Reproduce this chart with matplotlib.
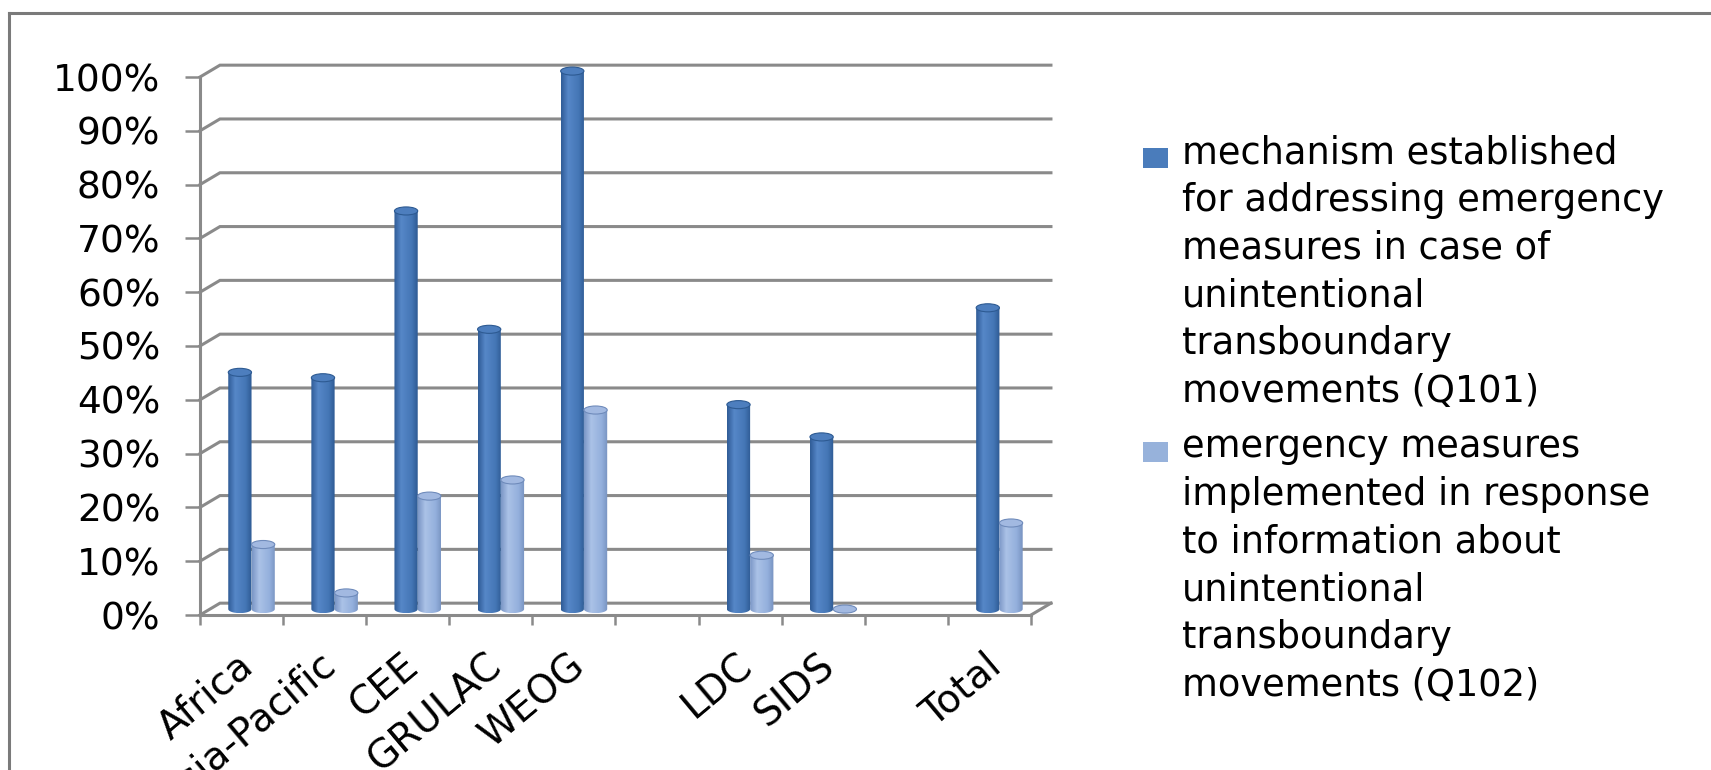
import numpy as np
import matplotlib.pyplot as plt
from matplotlib.patches import Ellipse, Rectangle
from matplotlib.path import Path
from matplotlib.lines import Line2D
from matplotlib.colors import LinearSegmentedColormap

# survey results, share of parties per region / group
categories = ['Africa', 'Asia-Pacific', 'CEE', 'GRULAC', 'WEOG', '', 'LDC', 'SIDS', '', 'Total']
mechanism = [44, 43, 74, 52, 100, np.nan, 38, 32, np.nan, 56]
implemented = [12, 3, 21, 24, 37, np.nan, 10, 0, np.nan, 16]
series_names = ['mechanism established\nfor addressing emergency\nmeasures in case of\n'
                'unintentional\ntransboundary\nmovements (Q101)',
                'emergency measures\nimplemented in response\nto information about\n'
                'unintentional\ntransboundary\nmovements (Q102)']
y_ticks = np.arange(0, 101, 10)

W, H = 1711, 770
PX_X = 83.1   # pixels per category
PX_Y = 5.38   # pixels per percent
X0, Y0 = 200, 155  # pixel position of the front origin

fig = plt.figure(figsize=(W / 100, H / 100), dpi=100)
xlo, xhi, ylo, yhi = -0.05, 10.4, -2, 104
ax = fig.add_axes([(X0 + xlo * PX_X) / W, (Y0 + ylo * PX_Y) / H,
                   (xhi - xlo) * PX_X / W, (yhi - ylo) * PX_Y / H])
ax.patch.set_alpha(0)

grid_c = '#8a8a8a'
DX, DY = 0.24, 2.2          # depth of the 3d box
MX, MY = DX / 2, DY / 2      # bars stand in the middle of the floor
BW = 0.28
EH = 0.75

n = len(categories)

# back wall and side wall gridlines
for v in y_ticks:
    ax.plot([0, DX, n + DX], [v, v + DY, v + DY], color=grid_c, lw=2.2,
            solid_joinstyle='miter', zorder=1)
ax.plot([n, n + DX], [0, DY], color=grid_c, lw=2.2, zorder=1)

dark_cmap = LinearSegmentedColormap.from_list(
    'dark', [(0, '#2f5c96'), (0.3, '#5687c8'), (0.75, '#4476b5'), (1, '#2e5a93')])
light_cmap = LinearSegmentedColormap.from_list(
    'light', [(0, '#7b97c6'), (0.3, '#abc2e7'), (0.75, '#93afdc'), (1, '#7792c0')])
grad = np.linspace(0, 1, 64).reshape(1, -1)


def cylinder(x0, x1, value, cmap, cap_face, cap_edge):
    base = MY
    top = value + MY
    cx, hw = (x0 + x1) / 2, (x1 - x0) / 2
    th = np.linspace(0, -np.pi, 40)
    verts = [(x0, top), (x1, top), (x1, base)]
    verts += list(zip(cx + hw * np.cos(th), base + EH * np.sin(th)))
    verts += [(x0, top)]
    clip = Path(verts, closed=True)
    if value > 0:
        im = ax.imshow(grad, cmap=cmap, extent=[x0, x1, base - EH, top],
                       aspect='auto', interpolation='bilinear', zorder=3)
        im.set_clip_path(clip, transform=ax.transData)
    ax.add_patch(Ellipse((cx, top), x1 - x0, 2 * EH, facecolor=cap_face,
                         edgecolor=cap_edge, lw=0.8, zorder=4))


for i in range(n):
    c = i + 0.5
    if not np.isnan(mechanism[i]):
        cylinder(c - BW + MX, c + MX, mechanism[i], dark_cmap, '#4d7ebe', '#2d5a92')
    if not np.isnan(implemented[i]):
        cylinder(c + MX, c + BW + MX, implemented[i], light_cmap, '#a2b9e1', '#6f8bbb')

ax.set_xlim(xlo, xhi)
ax.set_ylim(ylo, yhi)

for side in ['top', 'right']:
    ax.spines[side].set_visible(False)
for side in ['left', 'bottom']:
    ax.spines[side].set_position(('data', 0))
    ax.spines[side].set_color(grid_c)
    ax.spines[side].set_linewidth(2.2)
ax.spines['left'].set_bounds(0, 100)
ax.spines['bottom'].set_bounds(0, n)

ax.set_yticks(y_ticks, labels=[f'{v}%' for v in y_ticks])
ax.tick_params(axis='y', length=10.5, width=1.8, color=grid_c, pad=18,
               labelsize=27)

ax.set_xticks(np.arange(n) + 0.5 + 0.08)
ax.set_xticklabels(categories, rotation=40, ha='right', va='center',
                   rotation_mode='anchor', fontsize=28)
ax.set_xticks(np.arange(n + 1), minor=True)
ax.tick_params(axis='x', which='major', length=0, pad=33)
ax.tick_params(axis='x', which='minor', length=7.5, width=1.8, color=grid_c)

# legend: square beside the first line, text block anchored on its last line
leg_cols = ['#4a7cbb', '#97b2db']
leg_first = [158, 452]
leg_last = [402, 696]
for name, col, y1, yl in zip(series_names, leg_cols, leg_first, leg_last):
    fig.add_artist(Rectangle((1143 / W, (H - y1 - 10) / H), 25 / W, 20 / H,
                             transform=fig.transFigure, facecolor=col,
                             edgecolor='none'))
    fig.text(1182 / W, (H - yl) / H, name, fontsize=26.5, va='baseline',
             ha='left', linespacing=1.37)

# outer frame
fig.add_artist(Line2D([9 / W, 1], [(H - 13) / H] * 2, color='#7a7a7a', lw=2.2,
                      transform=fig.transFigure))
fig.add_artist(Line2D([9 / W] * 2, [0, (H - 13) / H], color='#7a7a7a', lw=2.2,
                      transform=fig.transFigure))

fig.savefig('out.png', dpi=100)
